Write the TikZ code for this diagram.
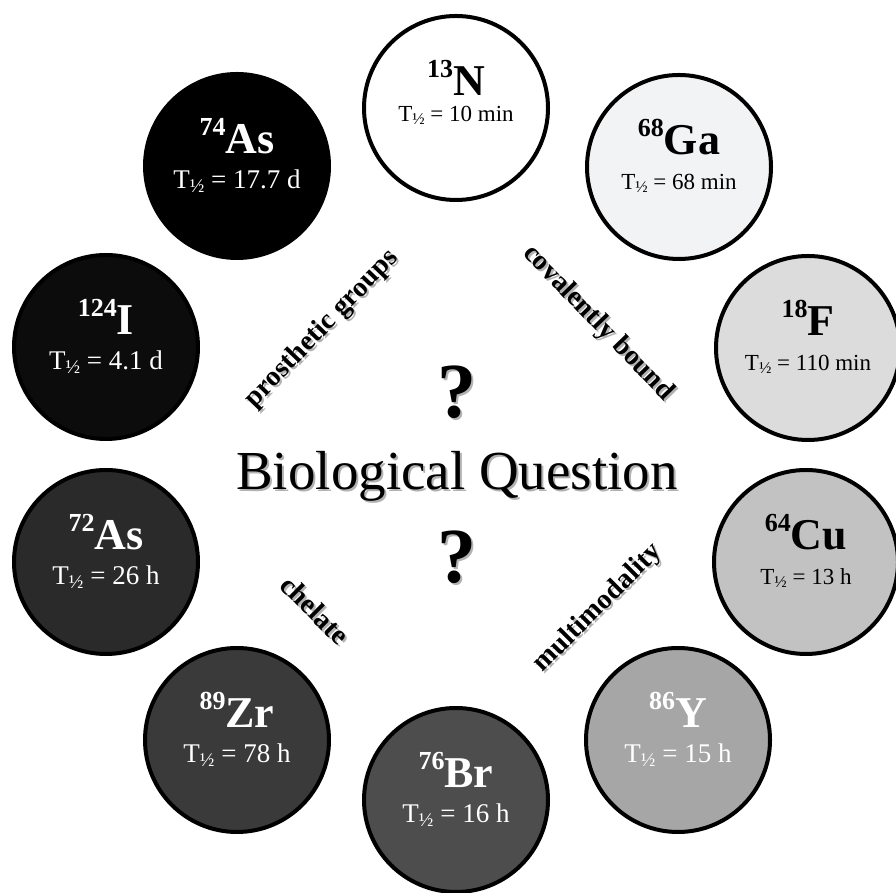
\documentclass[tikz,border=0pt]{standalone}
\usepackage{fontspec}
\setmainfont{Liberation Serif}
\definecolor{gaFill}{HTML}{F2F3F5}
\definecolor{fFill}{HTML}{DCDCDC}
\definecolor{cuFill}{HTML}{C2C2C2}
\definecolor{yFill}{HTML}{A6A6A6}
\definecolor{brFill}{HTML}{4D4D4D}
\definecolor{zrFill}{HTML}{3A3A3A}
\definecolor{asFill}{HTML}{2A2A2A}
\definecolor{iFill}{HTML}{0C0C0C}
\newcommand{\halflife}{T\raisebox{-0.12em}{\scalebox{0.72}{½}}}
\newcommand{\iso}[2]{\raisebox{18pt}{\fontsize{26}{26}\selectfont #1}#2}
\begin{document}
\begin{tikzpicture}[x=1pt,y=1pt,
  isotope/.style={circle,draw=black,line width=4pt,minimum size=184pt,inner sep=0pt},
  symb/.style={anchor=base,font=\bfseries\fontsize{44}{48}\selectfont},
  tag/.style={font=\bfseries\fontsize{28}{32}\selectfont},
  shade/.style={text=black!30}]
  \useasboundingbox (0,0) rectangle (896,893);
  % isotopes round the question
  \foreach \nm/\x/\y/\fc/\tc/\ms/\el/\hl/\ts/\td in {
      N13/456/785/white/black/13/N/10 min/23/14,
      Ga68/679/726/gaFill/black/68/Ga/68 min/23/23,
      F18/808/545/fFill/black/18/F/110 min/23/23,
      Cu64/806/331/cuFill/black/64/Cu/13 h/23/23,
      Y86/678/153/yFill/white/86/Y/15 h/27/23,
      Br76/456/93/brFill/white/76/Br/16 h/27/23,
      Zr89/237/153/zrFill/white/89/Zr/78 h/27/23,
      As72/106/331/asFill/white/72/As/26 h/27/23,
      I124/106/546/iFill/white/124/I/4.1 d/27/23,
      As74/237/727/black/white/74/As/17.7 d/27/23}{
    \node[isotope,fill=\fc] (\nm) at (\x,\y) {};
    \node[symb,text=\tc,yshift=12pt] (\nm-el) at (\nm.center) {\iso{\ms}{\el}};
    \node[anchor=base,text=\tc,yshift=-\td pt,font=\fontsize{\ts}{\ts}\selectfont] (\nm-hl) at (\nm.center) {\halflife{} = \hl};
  }
  % centre text
  \node[shade,anchor=base,font=\fontsize{55}{60}\selectfont] (bqs) at (459,401) {Biological Question};
  \node[anchor=base,font=\fontsize{55}{60}\selectfont] (bq) at (457,403) {Biological Question};
  \node[shade,anchor=base,font=\bfseries\fontsize{78}{80}\selectfont] (qas) at (459,473) {?};
  \node[anchor=base,font=\bfseries\fontsize{78}{80}\selectfont] (qa) at (457,475) {?};
  \node[shade,anchor=base,font=\bfseries\fontsize{78}{80}\selectfont] (qbs) at (459,308) {?};
  \node[anchor=base,font=\bfseries\fontsize{78}{80}\selectfont] (qb) at (457,310) {?};
  % labels
  \node[tag,shade,rotate=46] (pgs) at (324,562) {prosthetic groups};
  \node[tag,rotate=46] (pg) at (322,564) {prosthetic groups};
  \node[tag,shade,rotate=-46] (cbs) at (600,568) {covalently bound};
  \node[tag,rotate=-46] (cb) at (598,570) {covalently bound};
  \node[tag,shade,rotate=-45] (chs) at (317,281) {chelate};
  \node[tag,rotate=-45] (ch) at (315,283) {chelate};
  \node[tag,shade,rotate=45] (mms) at (600,283) {multimodality};
  \node[tag,rotate=45] (mm) at (598,285) {multimodality};
\end{tikzpicture}
\end{document}
